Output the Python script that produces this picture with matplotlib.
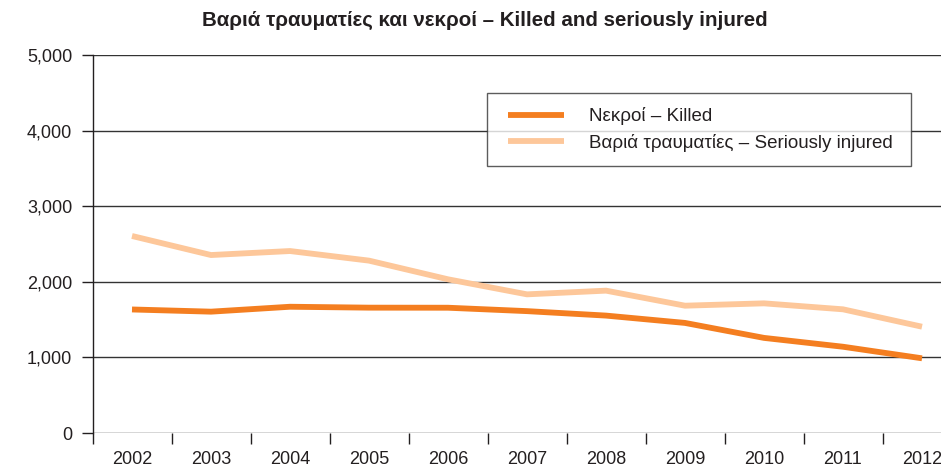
import matplotlib
matplotlib.use("Agg")
import matplotlib.pyplot as plt
from matplotlib.ticker import FuncFormatter, FixedLocator
from matplotlib.legend_handler import HandlerLine2D

plt.rcParams['font.family'] = ['Liberation Sans', 'DejaVu Sans']

years = ["2002", "2003", "2004", "2005", "2006", "2007", "2008", "2009", "2010", "2011", "2012"]
killed = [1634, 1605, 1670, 1658, 1657, 1612, 1553, 1456, 1258, 1141, 988]
injured = [2606, 2354, 2407, 2280, 2033, 1834, 1883, 1684, 1715, 1636, 1406]

title = "Βαριά τραυματίες και νεκροί – Killed and seriously injured"
label_killed = "Νεκροί – Killed"
label_injured = "Βαριά τραυματίες – Seriously injured"

c_killed = "#F47E20"
c_injured = "#FDC79A"
ink = "#231F20"

W, H = 941, 467
fig = plt.figure(figsize=(W / 100, H / 100), dpi=100)
left, right = 92.5, 961.5
top, bottom = 55, 433
ax = fig.add_axes([left / W, (H - bottom) / H, (right - left) / W, (bottom - top) / H])

x = list(range(len(years)))
l_inj, = ax.plot(x, injured, color=c_injured, lw=4.2, solid_capstyle="butt", label=label_injured, zorder=3)
l_kil, = ax.plot(x, killed, color=c_killed, lw=4.2, solid_capstyle="butt", label=label_killed, zorder=4)

ax.set_xlim(-0.5, len(years) - 0.5)
ax.set_ylim(0, 5000)

for s in ["top", "right", "bottom"]:
    ax.spines[s].set_visible(False)
ax.spines["left"].set_color(ink)
ax.spines["left"].set_linewidth(1.0)

ax.set_yticks(range(0, 5001, 1000))
ax.yaxis.set_major_formatter(FuncFormatter(lambda v, p: f"{int(v):,}"))
ax.grid(axis="y", color="#333333", lw=1.0)
ax.set_axisbelow(True)
ax.tick_params(axis="y", length=8, width=1.0, color=ink, pad=6.5, labelsize=13, labelcolor=ink)

ax.set_xticks(x)
ax.set_xticklabels(years)
ax.xaxis.set_minor_locator(FixedLocator([i - 0.5 for i in range(len(years) + 1)]))
ax.tick_params(axis="x", which="major", length=0, pad=13, labelsize=13, labelcolor=ink)
ax.tick_params(axis="x", which="minor", length=8, width=1.0, color=ink)

fig.text(485 / W, 1 - 20 / H, title, fontsize=14.8, fontweight="bold", color=ink,
         ha="center", va="center")

shifted = HandlerLine2D(xpad=0.37)
leg = ax.legend([l_kil, l_inj], [label_killed, label_injured], loc="upper left",
                bbox_to_anchor=((487 - left) / (right - left), (bottom - 164) / (bottom - top),
                                (911 - 487) / (right - left), (164 - 93) / (bottom - top)),
                mode="expand", fontsize=13.5, frameon=True, fancybox=False,
                handlelength=3.37, handletextpad=1.3, borderpad=0.75, labelspacing=0.45,
                borderaxespad=0, handler_map={l_kil: shifted, l_inj: shifted})
leg.get_frame().set_edgecolor("#333333")
leg.get_frame().set_linewidth(1.0)
for t in leg.get_texts():
    t.set_color(ink)

fig.savefig("out.png", dpi=100)
